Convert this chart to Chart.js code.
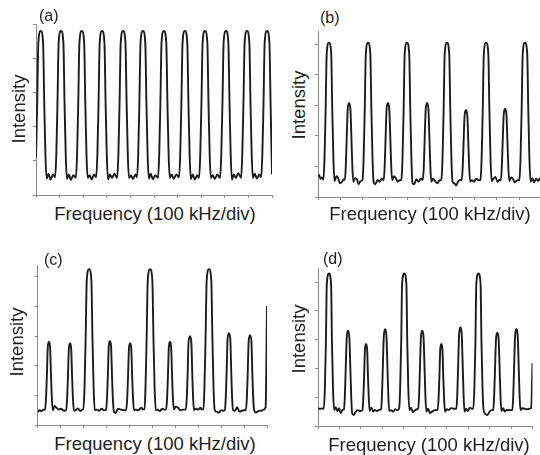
<!DOCTYPE html>
<html><head><meta charset="utf-8">
<script src="https://cdn.jsdelivr.net/npm/chart.js@4.4.1/dist/chart.umd.min.js"></script>
<style>
html,body{margin:0;padding:0;width:540px;height:455px;overflow:hidden;background:#fff;}
canvas{position:absolute;}
.t{position:absolute;font-family:"Liberation Sans",Arial,sans-serif;color:#1e1e1e;white-space:nowrap;line-height:1;}
.ax{font-size:18.5px;}
.pl{font-size:16px;}
</style></head><body>
<script>
// ---- data (frequency in kHz, 100 kHz per division; intensity in arbitrary units) ----
const freqA = [0,5,10,20,30,35,40,45,53,62,72,
81,86,91,96,106,116,121,126,131,139,148,158,
169,174,179,184,194,204,209,214,219,227,236,246,
255,260,265,270,280,290,295,300,305,313,322,332,
344,349,354,359,369,379,384,389,394,402,411,421,
428,433,438,443,453,463,468,473,478,486,495,505,
517,522,527,532,542,552,557,562,567,575,584,594,
606,611,616,621,631,641,646,651,656,664,673,683,
691,696,701,706,716,726,731,736,741,749,758,768,
780,785,790,795,805,815,820,825,830,838,847,857,
869,874,879,884,894,904,909,914,919,927,936,946,
954,959,964,969,979,989,994,1000];
const intensityA = [1.1,2.67,4.45,4.8,4.45,2.67,1.17,0.48,0.62,0.45,0.6,
0.52,1.17,2.67,4.45,4.8,4.45,2.67,1.17,0.47,0.6,0.44,0.58,
0.5,1.17,2.67,4.45,4.8,4.45,2.67,1.17,0.5,0.58,0.46,0.6,
0.52,1.17,2.67,4.45,4.8,4.45,2.67,1.17,0.45,0.6,0.5,0.62,
0.5,1.17,2.67,4.45,4.8,4.45,2.67,1.17,0.5,0.57,0.47,0.6,
0.52,1.17,2.67,4.45,4.8,4.45,2.67,1.17,0.48,0.62,0.46,0.58,
0.5,1.17,2.67,4.45,4.8,4.45,2.67,1.17,0.5,0.6,0.47,0.6,
0.52,1.17,2.67,4.45,4.8,4.45,2.67,1.17,0.46,0.6,0.45,0.58,
0.5,1.17,2.67,4.45,4.8,4.45,2.67,1.17,0.5,0.58,0.47,0.6,
0.5,1.17,2.67,4.45,4.8,4.45,2.67,1.17,0.45,0.6,0.5,0.64,
0.5,1.17,2.67,4.45,4.8,4.45,2.67,1.17,0.5,0.62,0.48,0.6,
0.52,1.17,2.67,4.45,4.8,4.45,2.67,0.6];

const freqB = [0,5,11,17,
24,29,34,39,49,59,64,69,74,
82,90,98,108,115,
120,124,128,133,139,145,150,154,158,
166,174,182,190,
199,204,209,214,224,234,239,244,249,
257,266,276,285,
294,298,302,307,313,319,324,328,332,
340,348,357,366,
373,378,383,388,398,408,413,418,423,
431,440,450,460,
469,473,477,482,488,494,499,503,507,
515,524,534,545,
552,557,562,567,577,587,592,597,602,
610,618,628,637,
643,647,651,656,662,668,673,677,681,
689,698,708,720,
727,732,737,742,752,762,767,772,777,
785,794,803,812,
818,822,826,831,837,843,848,852,856,
864,872,880,892,
901,906,911,916,926,936,941,946,951,
959,967,976,985,993,1000];
const intensityB = [0.66,0.72,0.6,0.64,
0.56,1.24,2.81,4.7,5.06,4.7,2.81,1.24,0.52,
0.68,0.62,0.45,0.5,0.58,
0.56,0.94,1.82,2.88,3.08,2.88,1.82,0.94,0.5,
0.62,0.58,0.42,0.52,
0.56,1.24,2.81,4.7,5.06,4.7,2.81,1.24,0.48,
0.42,0.56,0.5,0.6,
0.55,0.94,1.82,2.88,3.08,2.88,1.82,0.94,0.55,
0.68,0.62,0.5,0.55,
0.56,1.24,2.81,4.7,5.06,4.7,2.81,1.24,0.45,
0.42,0.58,0.5,0.6,
0.56,0.94,1.82,2.88,3.08,2.88,1.82,0.94,0.5,
0.6,0.52,0.45,0.55,
0.56,1.24,2.81,4.7,5.06,4.7,2.81,1.24,0.5,
0.45,0.38,0.52,0.56,
0.55,0.9,1.7,2.67,2.85,2.67,1.7,0.9,0.5,
0.55,0.5,0.6,0.55,
0.56,1.24,2.81,4.7,5.06,4.7,2.81,1.24,0.52,
0.6,0.66,0.5,0.56,
0.55,0.91,1.73,2.7,2.89,2.7,1.73,0.91,0.52,
0.64,0.6,0.48,0.55,
0.56,1.24,2.81,4.7,5.06,4.7,2.81,1.24,0.5,
0.62,0.48,0.6,0.52,0.62,0.58];

const freqC = [0,8,16,25,
32,36,40,44,49,54,58,62,66,
74,82,92,102,114,
124,128,132,136,141,146,150,154,158,
166,175,186,194,
199,204,209,214,224,234,239,244,249,
258,268,278,290,
298,302,306,310,315,320,324,328,332,
340,350,362,376,
386,390,394,398,403,408,412,416,420,
428,438,452,460,
465,470,475,480,490,500,505,510,515,
523,533,543,552,
560,564,568,572,577,582,586,590,594,
602,612,622,637,
646,650,654,658,664,670,674,678,682,
690,700,710,716,
722,727,732,737,747,757,762,767,772,
780,790,800,808,
816,820,824,828,834,840,844,848,852,
860,870,880,898,
908,912,916,920,926,932,936,940,944,
952,962,975,985,994,1000];
const intensityC = [0.44,0.5,0.47,0.52,
0.51,0.86,1.66,2.63,2.81,2.63,1.66,0.86,0.5,
0.64,0.58,0.52,0.55,0.48,
0.51,0.85,1.64,2.58,2.76,2.58,1.64,0.85,0.48,
0.5,0.56,0.47,0.52,
0.52,1.22,2.89,4.88,5.26,4.88,2.89,1.22,0.5,
0.52,0.48,0.55,0.5,
0.51,0.86,1.68,2.66,2.84,2.66,1.68,0.86,0.46,
0.4,0.55,0.52,0.5,
0.5,0.85,1.64,2.58,2.76,2.58,1.64,0.85,0.5,
0.52,0.5,0.58,0.52,
0.53,1.22,2.89,4.88,5.26,4.88,2.89,1.22,0.5,
0.52,0.47,0.55,0.52,
0.52,0.86,1.66,2.63,2.81,2.63,1.66,0.86,0.52,
0.62,0.58,0.5,0.52,
0.52,0.88,1.76,2.8,3.0,2.8,1.76,0.88,0.5,
0.55,0.52,0.58,0.52,
0.53,1.22,2.89,4.88,5.26,4.88,2.89,1.22,0.5,
0.45,0.42,0.5,0.48,
0.5,0.9,1.81,2.9,3.1,2.9,1.81,0.9,0.5,
0.48,0.6,0.45,0.5,
0.5,0.89,1.77,2.83,3.03,2.83,1.77,0.89,0.5,
0.42,0.47,0.48,0.52,0.6,4.02];

const freqD = [0,10,20,
27,32,37,41,51,61,65,70,75,
83,91,98,106,114,
121,125,129,134,140,146,151,155,159,
167,176,186,196,
207,211,215,219,224,229,233,237,241,
249,257,265,275,285,
294,298,302,307,313,319,324,328,332,
340,350,360,370,
378,383,388,392,402,412,416,421,426,
434,442,452,462,
467,471,475,480,486,492,497,501,505,
513,522,532,545,
558,562,566,570,575,580,584,588,592,
600,610,620,635,
645,649,653,658,664,670,675,679,683,
691,699,708,717,
724,729,734,738,748,758,762,767,772,
780,790,800,810,
817,821,825,830,836,842,847,851,855,
863,871,880,895,
906,910,914,919,925,931,936,940,944,
952,962,975,985,994,1000];
const intensityD = [0.6,0.6,0.61,
0.6,1.3,2.95,4.92,5.3,4.92,2.95,1.3,0.55,
0.65,0.52,0.62,0.45,0.56,
0.58,1.0,1.95,3.09,3.31,3.09,1.95,1.0,0.45,
0.38,0.5,0.55,0.52,
0.55,0.93,1.72,2.67,2.85,2.67,1.72,0.93,0.52,
0.64,0.5,0.56,0.52,0.56,
0.58,1.01,1.98,3.14,3.36,3.14,1.98,1.01,0.52,
0.55,0.5,0.58,0.55,
0.6,1.3,2.95,4.92,5.3,4.92,2.95,1.3,0.55,
0.64,0.48,0.55,0.58,
0.58,1.0,1.95,3.09,3.31,3.09,1.95,1.0,0.5,
0.6,0.45,0.5,0.55,
0.55,0.93,1.72,2.67,2.85,2.67,1.72,0.93,0.5,
0.58,0.56,0.62,0.6,
0.6,1.02,2.01,3.2,3.43,3.2,2.01,1.02,0.5,
0.6,0.52,0.64,0.6,
0.6,1.3,2.95,4.92,5.3,4.92,2.95,1.3,0.55,
0.42,0.38,0.5,0.55,
0.56,0.99,1.92,3.03,3.24,3.03,1.92,0.99,0.52,
0.62,0.5,0.56,0.55,
0.56,1.01,1.98,3.15,3.37,3.15,1.98,1.01,0.55,
0.62,0.6,0.58,0.6,0.62,2.19];

const panelLabels = ['(a)','(b)','(c)','(d)'];
const xTitle = 'Frequency (100 kHz/div)';
const yTitle = 'Intensity';
const freqRange = [0, 1000];
const freqStep = 100;
const intensityMax = [5, 5.44, 5.4, 5.49];

// ---- layout (pixels) ----
const panels = [
  {area:[36,24,272,195],    freq:freqA, inten:intensityA, label:[39,8],   ytc:[18.5,109],  xt:[155,205]},
  {area:[318,31,541.5,197], freq:freqB, inten:intensityB, label:[320,10], ytc:[298.5,104.5],xt:[430,205]},
  {area:[37.7,265,267,425], freq:freqC, inten:intensityC, label:[44,252], ytc:[16.5,341.5],xt:[155,434.6]},
  {area:[318,268,532.5,426],freq:freqD, inten:intensityD, label:[323,251],ytc:[298.5,339],  xt:[429,435.6]}
];
const PAD = 3, TICK = 4;
const axisColor = '#8c8c8c';

function addText(cls, txt, css) {
  const d = document.createElement('div');
  d.className = 't ' + cls;
  d.textContent = txt;
  Object.assign(d.style, css);
  document.body.appendChild(d);
}

panels.forEach((p, i) => {
  const [L,T,R,B] = p.area;
  const left = Math.round(L - TICK - PAD), top = Math.round(T - PAD);
  const w = Math.round(R + PAD) - left, h = Math.round(B + TICK + PAD) - top;
  const cv = document.createElement('canvas');
  cv.width = w; cv.height = h;
  cv.style.left = left + 'px'; cv.style.top = top + 'px';
  cv.style.width = w + 'px'; cv.style.height = h + 'px';
  document.body.appendChild(cv);
  const padL = L - TICK - left, padT = T - top, padR = left + w - R, padB = top + h - B - TICK;
  new Chart(cv, {
    type: 'line',
    data: { datasets: [{
      data: p.freq.map((x, k) => ({x, y: p.inten[k]})),
      borderColor: '#1c1c1c', borderWidth: 1.9, pointRadius: 0,
      cubicInterpolationMode: 'monotone', fill: false
    }]},
    options: {
      responsive: false, animation: false, devicePixelRatio: 1,
      layout: { padding: {left: padL, top: padT, right: padR, bottom: padB} },
      plugins: { legend: {display:false}, tooltip: {enabled:false} },
      scales: {
        x: { type:'linear', min: freqRange[0], max: freqRange[1],
             ticks: { display:false, stepSize: freqStep },
             grid: { drawOnChartArea:false, drawTicks:true, tickLength:3, color:axisColor, lineWidth:1 },
             border: { display:true, color:axisColor, width:1 },
             afterFit: s => { s.height = TICK; } },
        y: { type:'linear', min: 0, max: intensityMax[i],
             ticks: { display:false, stepSize: 1, includeBounds:false },
             grid: { drawOnChartArea:false, drawTicks:true, tickLength:3, color:axisColor, lineWidth:1 },
             border: { display:true, color:axisColor, width:1 },
             afterFit: s => { s.width = TICK; } }
      }
    }
  });
  addText('pl', panelLabels[i], {left: p.label[0]+'px', top: p.label[1]+'px'});
  addText('ax', xTitle, {left: p.xt[0]+'px', top: p.xt[1]+'px', transform:'translateX(-50%)'});
  addText('ax', yTitle, {left: p.ytc[0]+'px', top: p.ytc[1]+'px', transform:'translate(-50%,-50%) rotate(-90deg)'});
});
</script>
</body></html>
